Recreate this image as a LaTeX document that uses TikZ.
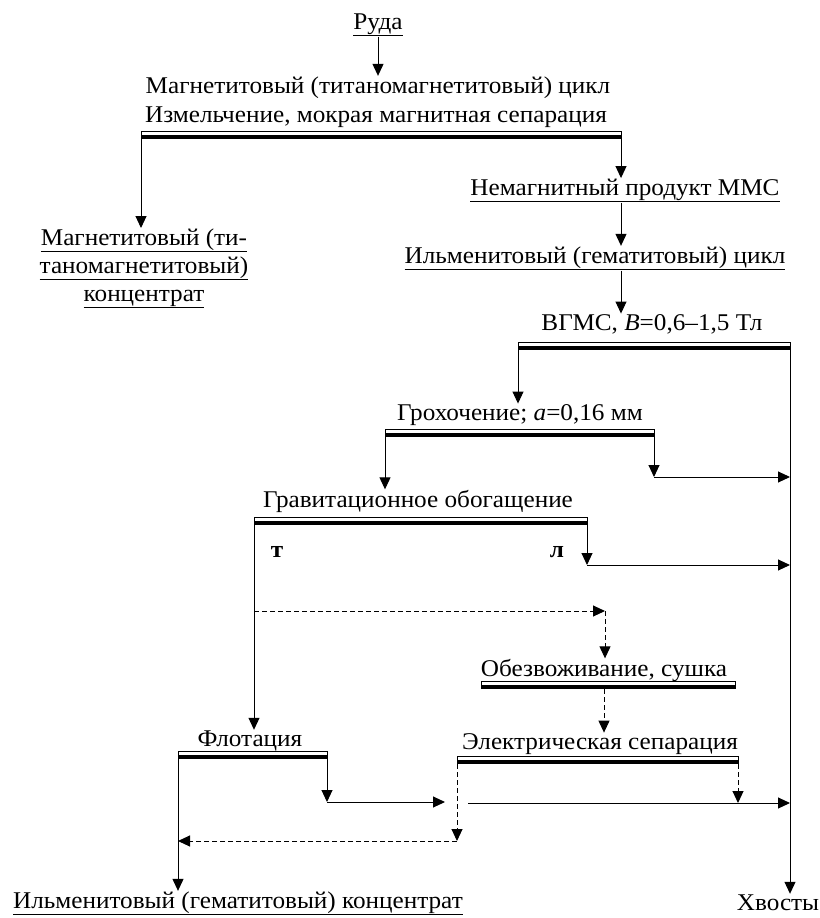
\documentclass[tikz,border=0pt]{standalone}
\usepackage{fontspec}
\setmainfont[FakeStretch=1.05]{Liberation Serif}
\usetikzlibrary{arrows.meta}
% separation operation: thin line over a thick one
\newcommand{\opbar}[4]{%
  \coordinate (#1w) at (#2,#4); \coordinate (#1e) at (#3,#4);
  \coordinate (#1sw) at (#2,#4+8); \coordinate (#1se) at (#3,#4+8);
  \draw (#1sw) -- (#1w) -- (#1e) -- (#1se);
  \draw[line width=4pt] (#2,#4+6) -- (#3,#4+6);
}
\begin{document}
\begin{tikzpicture}[x=1pt, y=-1pt, >={Triangle[length=12pt,width=11pt]},
    line width=1pt, font=\fontsize{24}{28}\selectfont,
    txt/.style={inner sep=0pt, anchor=base},
    dflow/.style={->, dash pattern=on 5pt off 3pt}]
\useasboundingbox (0,0) rectangle (819,918);
% texts
\node[txt] (ore) at (378,29) {\underline{Руда}};
\node[txt] (magcycle) at (378,93) {Магнетитовый (титаномагнетитовый) цикл};
\node[txt] (grind) at (376,122) {Измельчение, мокрая магнитная сепарация};
\node[inner sep=0pt, anchor=north, align=center] (magconc) at (144,228)
  {\underline{Магнетитовый (ти-}\\\underline{таномагнетитовый)}\\\underline{концентрат}};
\node[txt] (nonmag) at (625,195) {\underline{Немагнитный продукт ММС}};
\node[txt] (ilmcycle) at (595,263) {\underline{Ильменитовый (гематитовый) цикл}};
\node[txt] (hgms) at (652,330) {ВГМС, \textit{B}=0,6–1,5 Тл};
\node[txt] (screen) at (520,420) {Грохочение; \textit{a}=0,16 мм};
\node[txt] (grav) at (418,507) {Гравитационное обогащение};
\node[txt, font=\fontsize{24}{28}\selectfont\bfseries] (heavy) at (277,557) {т};
\node[txt, font=\fontsize{24}{28}\selectfont\bfseries] (light) at (557,557) {л};
\node[txt] (dewater) at (604,676) {Обезвоживание, сушка};
\node[txt] (flot) at (250,746) {Флотация};
\node[txt] (elsep) at (600,749) {Электрическая сепарация};
\node[txt] (ilmconc) at (238,908) {\underline{Ильменитовый (гематитовый) концентрат}};
\node[txt] (tails) at (778,910) {Хвосты};
% operations
\opbar{b1}{141}{621}{131}
\opbar{b2}{518}{790}{342}
\opbar{b3}{385}{654}{429}
\opbar{b4}{254}{587}{517}
\opbar{b5}{481}{735}{681}
\opbar{b6}{178}{327}{751}
\opbar{b7}{457}{738}{756}
% bends
\coordinate (j1) at (654,477);
\coordinate (j2) at (587,565);
\coordinate (j3) at (254,611);
\coordinate (j4) at (605,611);
\coordinate (j5) at (327,802);
\coordinate (j6) at (445,802);
\coordinate (j7) at (457,841);
\coordinate (j8) at (738,803);
\coordinate (j9) at (468,803);
% flows
\draw[->] (ore.south) -- (ore.south |- magcycle.north);
\draw[->] (b1sw) -- (b1sw |- magconc.north);
\draw[->] (b1se) -- (b1se |- nonmag.north);
\draw[->] (b1se |- nonmag.south) -- (b1se |- ilmcycle.north);
\draw[->] (b1se |- ilmcycle.south) -- (b1se |- hgms.north);
\draw[->] (b2sw) -- (b2sw |- screen.north);
\draw[->] (b2se) -- (b2se |- tails.north);
\draw[->] (b3sw) -- (b3sw |- grav.north);
\draw[->] (b3se) -- (j1);
\draw[->] (j1) -- (j1 -| b2e);
\draw[->] (b4sw) -- (b4sw |- flot.north);
\draw[->] (b4se) -- (j2);
\draw[->] (j2) -- (j2 -| b2e);
\draw[dflow] (j3) -- (j4);
\draw[dflow] (j4) -- (j4 |- dewater.north);
\draw[dflow] (b5sw -| dewater) -- (dewater |- elsep.north);
\draw[->] (b6se) -- (j5);
\draw[->] (j5) -- (j6);
\draw[dflow] (b7sw) -- (j7);
\draw[dflow] (j7) -- (j7 -| b6w);
\draw[dflow] (b7se) -- (j8);
\draw[->] (j9) -- (j9 -| b2e);
\draw[->] (b6sw) -- (b6sw |- ilmconc.north);
\end{tikzpicture}
\end{document}
